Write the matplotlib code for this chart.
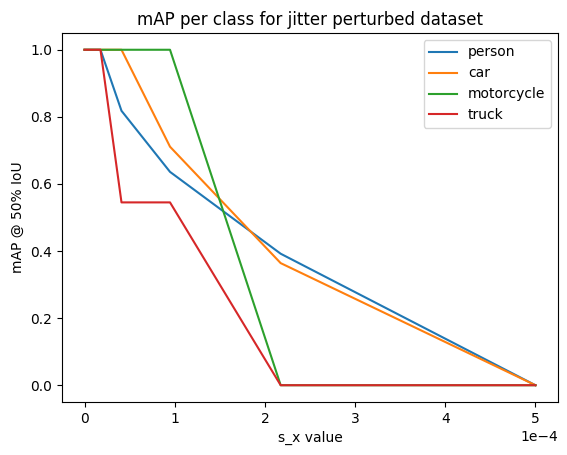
import numpy as np
import matplotlib.pyplot as plt

# s_x values (scaled by 1e-4 on the axis)
s_x = [0.0, 0.177e-4, 0.41e-4, 0.948e-4, 2.175e-4, 5.0e-4]

person = [1.0, 1.0, 0.818, 0.636, 0.392, 0.0]
car = [1.0, 1.0, 1.0, 0.711, 0.364, 0.0]
motorcycle = [1.0, 1.0, 1.0, 1.0, 0.0, 0.0]
truck = [1.0, 1.0, 0.545, 0.545, 0.0, 0.0]

fig = plt.figure(figsize=(5.67, 4.55), dpi=100)
ax = fig.add_subplot(1, 1, 1)
fig.subplots_adjust(left=0.1093, right=0.9841, bottom=0.1165, top=0.9275)

ax.plot(s_x, person, label="person")
ax.plot(s_x, car, label="car")
ax.plot(s_x, motorcycle, label="motorcycle")
ax.plot(s_x, truck, label="truck")

ax.ticklabel_format(axis="x", style="sci", scilimits=(0, 0))
ax.set_xticks(np.arange(0, 6) * 1e-4)

ax.set_title("mAP per class for jitter perturbed dataset")
ax.set_xlabel("s_x value")
ax.set_ylabel("mAP @ 50% IoU")
ax.legend()

fig.savefig("out.png", dpi=100)
